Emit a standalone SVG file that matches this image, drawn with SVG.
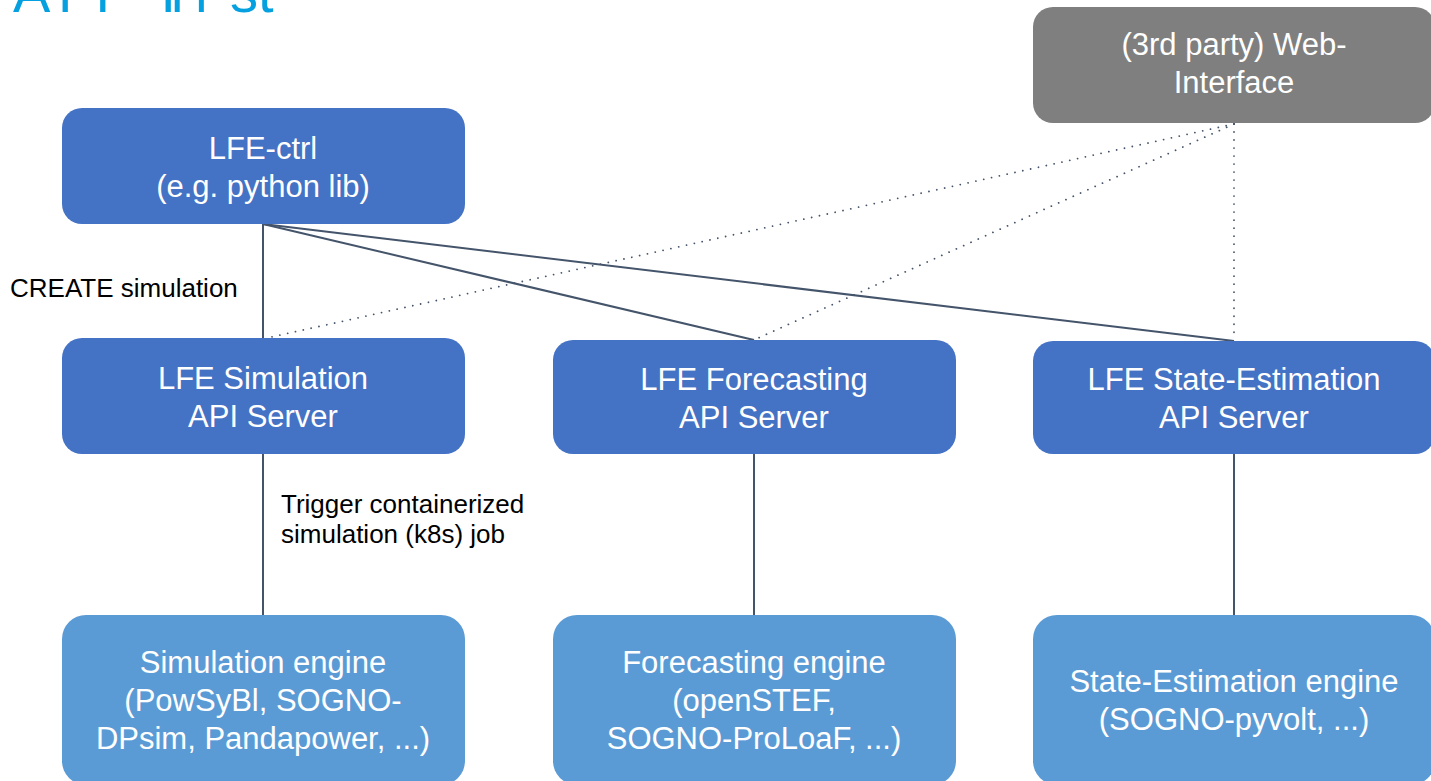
<svg xmlns="http://www.w3.org/2000/svg" width="1431" height="781" viewBox="0 0 1431 781">
<style>
.dark{fill:#4472C4}
.light{fill:#5B9BD5}
.gray{fill:#7F7F7F}
.nt{font-family:"Liberation Sans",Arial,sans-serif;font-size:31px;fill:#FFFFFF;text-anchor:middle}
.lbl{font-family:"Liberation Sans",Arial,sans-serif;font-size:26px;fill:#000000}
.title{font-family:"Liberation Sans",Arial,sans-serif;font-size:56px;fill:#05A0E0}
.solid{stroke:#44546A;stroke-width:2;fill:none}
.dot{stroke:#44546A;stroke-width:1.8;fill:none;stroke-linecap:round;stroke-dasharray:0.01 8}
</style>
<rect width="1431" height="781" fill="#FFFFFF"/>
<text class="title" x="13 58 95 126 161 171 195 230" y="12">API First</text>
<g id="connectors">
<line class="solid" x1="263" y1="224" x2="263" y2="339"/>
<line class="solid" x1="263" y1="224" x2="754" y2="340"/>
<line class="solid" x1="263" y1="224" x2="1234" y2="341"/>
<line class="solid" x1="263" y1="454" x2="263" y2="615"/>
<line class="solid" x1="754" y1="454" x2="754" y2="615"/>
<line class="solid" x1="1234" y1="454" x2="1234" y2="615"/>
<line class="dot" x1="1234" y1="124" x2="267" y2="338"/>
<line class="dot" x1="1234" y1="124" x2="756" y2="339"/>
<line class="dot" x1="1234" y1="124" x2="1234" y2="340"/>
<text class="lbl" x="10" y="297">CREATE simulation</text>
<text class="lbl" x="281" y="513">Trigger containerized</text>
<text class="lbl" x="281" y="543">simulation (k8s) job</text>
</g>
<g id="web-interface">
<rect class="gray" x="1033" y="7" width="402" height="116" rx="20"/>
<text class="nt" x="1234" y="55">(3rd party) Web-</text>
<text class="nt" x="1234" y="93">Interface</text>
</g>
<g id="lfe-ctrl">
<rect class="dark" x="62" y="108" width="403" height="116" rx="20"/>
<text class="nt" x="263" y="159">LFE-ctrl</text>
<text class="nt" x="263" y="197">(e.g. python lib)</text>
</g>
<g id="sim-api">
<rect class="dark" x="62" y="338" width="403" height="116" rx="20"/>
<text class="nt" x="263" y="389">LFE Simulation</text>
<text class="nt" x="263" y="427">API Server</text>
</g>
<g id="fc-api">
<rect class="dark" x="553" y="340" width="403" height="114" rx="20"/>
<text class="nt" x="754" y="390">LFE Forecasting</text>
<text class="nt" x="754" y="428">API Server</text>
</g>
<g id="se-api">
<rect class="dark" x="1033" y="341" width="402" height="113" rx="20"/>
<text class="nt" x="1234" y="390">LFE State-Estimation</text>
<text class="nt" x="1234" y="428">API Server</text>
</g>
<g id="sim-engine">
<rect class="light" x="62" y="615" width="403" height="170" rx="24"/>
<text class="nt" x="263" y="673">Simulation engine</text>
<text class="nt" x="263" y="711">(PowSyBl, SOGNO-</text>
<text class="nt" x="263" y="749">DPsim, Pandapower, ...)</text>
</g>
<g id="fc-engine">
<rect class="light" x="553" y="615" width="403" height="170" rx="24"/>
<text class="nt" x="754" y="673">Forecasting engine</text>
<text class="nt" x="754" y="711">(openSTEF,</text>
<text class="nt" x="754" y="749">SOGNO-ProLoaF, ...)</text>
</g>
<g id="se-engine">
<rect class="light" x="1033" y="615" width="402" height="170" rx="24"/>
<text class="nt" x="1234" y="692">State-Estimation engine</text>
<text class="nt" x="1234" y="730">(SOGNO-pyvolt, ...)</text>
</g>
</svg>
